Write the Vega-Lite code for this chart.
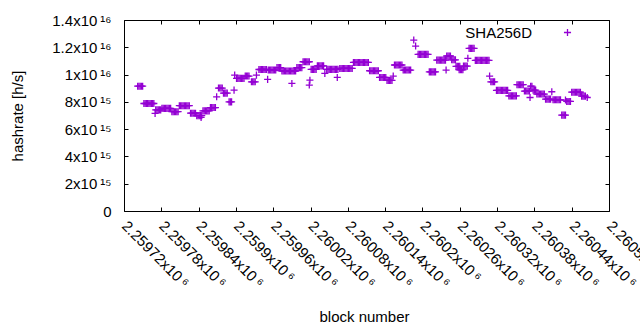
{
"$schema": "https://vega.github.io/schema/vega-lite/v6.json",
"width": 485, "height": 191,
"autosize": {"type": "none"},
"padding": {"left": 124, "top": 20, "right": 31, "bottom": 119},
"background": "white",
"config": {"font": "Liberation Sans", "view": {"stroke": "black", "strokeWidth": 1},
  "axis": {"labelColor": "black", "titleColor": "black", "tickColor": "black", "labelFontSize": 15, "titleFontSize": 15, "titleFontWeight": "normal", "grid": false, "domain": false, "tickSize": -4, "labelOverlap": false, "labelFlush": false, "labelBound": false}},
"data": {"values": [
{"block":2259742,"hashrate":9.15e15},{"block":2259744,"hashrate":9.15e15},{"block":2259746,"hashrate":9.15e15},{"block":2259748,"hashrate":9.15e15},{"block":2259750,"hashrate":9.15e15},
{"block":2259752,"hashrate":7.88e15},{"block":2259754,"hashrate":7.88e15},{"block":2259756,"hashrate":7.88e15},{"block":2259758,"hashrate":7.88e15},{"block":2259760,"hashrate":7.88e15},{"block":2259762,"hashrate":7.88e15},{"block":2259764,"hashrate":7.88e15},{"block":2259766,"hashrate":7.88e15},{"block":2259768,"hashrate":7.88e15},
{"block":2259770,"hashrate":7.15e15},
{"block":2259771,"hashrate":7.41e15},{"block":2259773,"hashrate":7.41e15},{"block":2259775,"hashrate":7.41e15},{"block":2259777,"hashrate":7.41e15},{"block":2259779,"hashrate":7.41e15},
{"block":2259781,"hashrate":7.52e15},{"block":2259783,"hashrate":7.52e15},{"block":2259785,"hashrate":7.52e15},{"block":2259787,"hashrate":7.52e15},{"block":2259789,"hashrate":7.52e15},{"block":2259791,"hashrate":7.52e15},{"block":2259793,"hashrate":7.52e15},{"block":2259795,"hashrate":7.52e15},
{"block":2259797,"hashrate":7.28e15},{"block":2259799,"hashrate":7.28e15},{"block":2259801,"hashrate":7.28e15},{"block":2259803,"hashrate":7.28e15},{"block":2259805,"hashrate":7.28e15},{"block":2259807,"hashrate":7.28e15},
{"block":2259809,"hashrate":7.72e15},{"block":2259811,"hashrate":7.72e15},{"block":2259813,"hashrate":7.72e15},{"block":2259815,"hashrate":7.72e15},{"block":2259817,"hashrate":7.72e15},{"block":2259819,"hashrate":7.72e15},{"block":2259821,"hashrate":7.72e15},{"block":2259823,"hashrate":7.72e15},{"block":2259825,"hashrate":7.72e15},
{"block":2259827,"hashrate":7.17e15},{"block":2259829,"hashrate":7.17e15},{"block":2259831,"hashrate":7.17e15},{"block":2259833,"hashrate":7.17e15},{"block":2259835,"hashrate":7.17e15},
{"block":2259837,"hashrate":6.99e15},{"block":2259839,"hashrate":6.99e15},{"block":2259841,"hashrate":6.99e15},{"block":2259843,"hashrate":6.99e15},{"block":2259845,"hashrate":6.99e15},{"block":2259844,"hashrate":6.86e15},
{"block":2259847,"hashrate":7.34e15},{"block":2259849,"hashrate":7.34e15},{"block":2259851,"hashrate":7.34e15},{"block":2259853,"hashrate":7.34e15},{"block":2259855,"hashrate":7.34e15},{"block":2259857,"hashrate":7.34e15},
{"block":2259859,"hashrate":7.58e15},{"block":2259861,"hashrate":7.58e15},{"block":2259863,"hashrate":7.58e15},{"block":2259865,"hashrate":7.58e15},{"block":2259867,"hashrate":7.58e15},
{"block":2259869,"hashrate":8.37e15},
{"block":2259872,"hashrate":9.01e15},{"block":2259874,"hashrate":9.01e15},{"block":2259876,"hashrate":9.01e15},{"block":2259878,"hashrate":9.01e15},
{"block":2259880,"hashrate":8.64e15},{"block":2259882,"hashrate":8.64e15},{"block":2259884,"hashrate":8.64e15},{"block":2259886,"hashrate":8.64e15},
{"block":2259889,"hashrate":8.0e15},{"block":2259891,"hashrate":8.0e15},{"block":2259893,"hashrate":8.0e15},
{"block":2259897,"hashrate":8.86e15},{"block":2259898,"hashrate":9.96e15},
{"block":2259901,"hashrate":9.72e15},{"block":2259903,"hashrate":9.72e15},{"block":2259905,"hashrate":9.72e15},{"block":2259907,"hashrate":9.72e15},{"block":2259909,"hashrate":9.72e15},{"block":2259911,"hashrate":9.72e15},{"block":2259913,"hashrate":9.72e15},
{"block":2259915,"hashrate":9.89e15},{"block":2259917,"hashrate":9.89e15},{"block":2259919,"hashrate":9.89e15},{"block":2259921,"hashrate":9.89e15},
{"block":2259925,"hashrate":9.47e15},{"block":2259927,"hashrate":9.47e15},{"block":2259929,"hashrate":9.47e15},{"block":2259931,"hashrate":9.47e15},
{"block":2259933,"hashrate":9.96e15},
{"block":2259937,"hashrate":1.037e16},{"block":2259939,"hashrate":1.037e16},{"block":2259941,"hashrate":1.037e16},{"block":2259943,"hashrate":1.037e16},{"block":2259945,"hashrate":1.037e16},{"block":2259947,"hashrate":1.037e16},{"block":2259949,"hashrate":1.037e16},
{"block":2259951,"hashrate":9.65e15},
{"block":2259952,"hashrate":1.033e16},{"block":2259954,"hashrate":1.033e16},{"block":2259956,"hashrate":1.033e16},{"block":2259958,"hashrate":1.033e16},{"block":2259960,"hashrate":1.033e16},{"block":2259962,"hashrate":1.033e16},{"block":2259964,"hashrate":1.033e16},
{"block":2259966,"hashrate":1.051e16},{"block":2259968,"hashrate":1.051e16},{"block":2259970,"hashrate":1.051e16},{"block":2259972,"hashrate":1.051e16},
{"block":2259974,"hashrate":1.026e16},{"block":2259976,"hashrate":1.026e16},{"block":2259978,"hashrate":1.026e16},{"block":2259980,"hashrate":1.026e16},{"block":2259982,"hashrate":1.026e16},{"block":2259984,"hashrate":1.026e16},{"block":2259986,"hashrate":1.026e16},{"block":2259988,"hashrate":1.026e16},{"block":2259990,"hashrate":1.026e16},{"block":2259992,"hashrate":1.026e16},{"block":2259994,"hashrate":1.026e16},{"block":2259996,"hashrate":1.026e16},
{"block":2259990,"hashrate":9.35e15},
{"block":2259998,"hashrate":1.051e16},{"block":2260000,"hashrate":1.051e16},{"block":2260002,"hashrate":1.051e16},{"block":2260004,"hashrate":1.051e16},{"block":2260006,"hashrate":1.051e16},
{"block":2260008,"hashrate":1.094e16},{"block":2260010,"hashrate":1.094e16},{"block":2260012,"hashrate":1.094e16},{"block":2260014,"hashrate":1.094e16},{"block":2260016,"hashrate":1.094e16},{"block":2260018,"hashrate":1.094e16},
{"block":2260019,"hashrate":9.59e15},{"block":2260018,"hashrate":9.23e15},
{"block":2260021,"hashrate":1.038e16},{"block":2260023,"hashrate":1.038e16},{"block":2260025,"hashrate":1.038e16},{"block":2260027,"hashrate":1.038e16},{"block":2260029,"hashrate":1.038e16},
{"block":2260031,"hashrate":1.064e16},{"block":2260033,"hashrate":1.064e16},{"block":2260035,"hashrate":1.064e16},{"block":2260037,"hashrate":1.064e16},{"block":2260039,"hashrate":1.064e16},{"block":2260041,"hashrate":1.064e16},
{"block":2260043,"hashrate":1.009e16},
{"block":2260046,"hashrate":1.038e16},{"block":2260048,"hashrate":1.038e16},{"block":2260050,"hashrate":1.038e16},{"block":2260052,"hashrate":1.038e16},{"block":2260054,"hashrate":1.038e16},{"block":2260056,"hashrate":1.038e16},{"block":2260058,"hashrate":1.038e16},{"block":2260060,"hashrate":1.038e16},{"block":2260062,"hashrate":1.038e16},{"block":2260064,"hashrate":1.038e16},
{"block":2260063,"hashrate":9.79e15},
{"block":2260067,"hashrate":1.045e16},{"block":2260069,"hashrate":1.045e16},{"block":2260071,"hashrate":1.045e16},{"block":2260073,"hashrate":1.045e16},{"block":2260075,"hashrate":1.045e16},{"block":2260077,"hashrate":1.045e16},{"block":2260079,"hashrate":1.045e16},{"block":2260081,"hashrate":1.045e16},{"block":2260083,"hashrate":1.045e16},{"block":2260085,"hashrate":1.045e16},{"block":2260087,"hashrate":1.045e16},
{"block":2260089,"hashrate":1.089e16},{"block":2260091,"hashrate":1.089e16},{"block":2260093,"hashrate":1.089e16},{"block":2260095,"hashrate":1.089e16},{"block":2260097,"hashrate":1.089e16},{"block":2260099,"hashrate":1.089e16},{"block":2260101,"hashrate":1.089e16},{"block":2260103,"hashrate":1.089e16},{"block":2260105,"hashrate":1.089e16},{"block":2260107,"hashrate":1.089e16},{"block":2260109,"hashrate":1.089e16},{"block":2260111,"hashrate":1.089e16},{"block":2260113,"hashrate":1.089e16},
{"block":2260115,"hashrate":1.028e16},{"block":2260117,"hashrate":1.028e16},{"block":2260119,"hashrate":1.028e16},{"block":2260121,"hashrate":1.028e16},{"block":2260123,"hashrate":1.028e16},{"block":2260125,"hashrate":1.028e16},{"block":2260127,"hashrate":1.028e16},{"block":2260129,"hashrate":1.028e16},
{"block":2260131,"hashrate":9.79e15},{"block":2260133,"hashrate":9.79e15},{"block":2260135,"hashrate":9.79e15},{"block":2260137,"hashrate":9.79e15},{"block":2260139,"hashrate":9.79e15},{"block":2260141,"hashrate":9.79e15},
{"block":2260143,"hashrate":9.57e15},{"block":2260145,"hashrate":9.57e15},{"block":2260147,"hashrate":9.57e15},{"block":2260149,"hashrate":9.57e15},{"block":2260151,"hashrate":9.57e15},
{"block":2260153,"hashrate":9.89e15},
{"block":2260155,"hashrate":1.07e16},{"block":2260157,"hashrate":1.07e16},{"block":2260159,"hashrate":1.07e16},{"block":2260161,"hashrate":1.07e16},{"block":2260163,"hashrate":1.07e16},{"block":2260165,"hashrate":1.07e16},{"block":2260167,"hashrate":1.07e16},
{"block":2260169,"hashrate":1.033e16},{"block":2260171,"hashrate":1.033e16},{"block":2260173,"hashrate":1.033e16},{"block":2260175,"hashrate":1.033e16},{"block":2260177,"hashrate":1.033e16},{"block":2260179,"hashrate":1.033e16},{"block":2260181,"hashrate":1.033e16},
{"block":2260186,"hashrate":1.253e16},{"block":2260189,"hashrate":1.209e16},
{"block":2260193,"hashrate":1.148e16},{"block":2260195,"hashrate":1.148e16},{"block":2260197,"hashrate":1.148e16},{"block":2260199,"hashrate":1.148e16},{"block":2260201,"hashrate":1.148e16},{"block":2260203,"hashrate":1.148e16},{"block":2260205,"hashrate":1.148e16},{"block":2260207,"hashrate":1.148e16},{"block":2260209,"hashrate":1.148e16},
{"block":2260211,"hashrate":1.02e16},{"block":2260213,"hashrate":1.02e16},{"block":2260215,"hashrate":1.02e16},{"block":2260217,"hashrate":1.02e16},{"block":2260219,"hashrate":1.02e16},{"block":2260221,"hashrate":1.02e16},
{"block":2260223,"hashrate":1.106e16},{"block":2260225,"hashrate":1.106e16},{"block":2260227,"hashrate":1.106e16},{"block":2260229,"hashrate":1.106e16},{"block":2260231,"hashrate":1.106e16},{"block":2260233,"hashrate":1.106e16},{"block":2260235,"hashrate":1.106e16},{"block":2260237,"hashrate":1.106e16},
{"block":2260238,"hashrate":1.033e16},
{"block":2260239,"hashrate":1.136e16},{"block":2260241,"hashrate":1.136e16},{"block":2260243,"hashrate":1.136e16},{"block":2260245,"hashrate":1.136e16},
{"block":2260247,"hashrate":1.108e16},{"block":2260249,"hashrate":1.108e16},{"block":2260251,"hashrate":1.108e16},{"block":2260253,"hashrate":1.108e16},
{"block":2260254,"hashrate":1.06e16},{"block":2260256,"hashrate":1.06e16},{"block":2260258,"hashrate":1.06e16},{"block":2260260,"hashrate":1.06e16},
{"block":2260259,"hashrate":1.035e16},{"block":2260261,"hashrate":1.035e16},{"block":2260263,"hashrate":1.035e16},{"block":2260265,"hashrate":1.035e16},
{"block":2260266,"hashrate":1.062e16},{"block":2260268,"hashrate":1.062e16},{"block":2260270,"hashrate":1.062e16},{"block":2260272,"hashrate":1.062e16},
{"block":2260273,"hashrate":1.119e16},
{"block":2260275,"hashrate":1.192e16},{"block":2260277,"hashrate":1.192e16},{"block":2260279,"hashrate":1.192e16},{"block":2260281,"hashrate":1.192e16},{"block":2260283,"hashrate":1.192e16},
{"block":2260285,"hashrate":1.104e16},{"block":2260287,"hashrate":1.104e16},{"block":2260289,"hashrate":1.104e16},{"block":2260291,"hashrate":1.104e16},{"block":2260293,"hashrate":1.104e16},{"block":2260295,"hashrate":1.104e16},{"block":2260297,"hashrate":1.104e16},{"block":2260299,"hashrate":1.104e16},{"block":2260301,"hashrate":1.104e16},{"block":2260303,"hashrate":1.104e16},{"block":2260305,"hashrate":1.104e16},{"block":2260307,"hashrate":1.104e16},
{"block":2260308,"hashrate":9.89e15},
{"block":2260310,"hashrate":9.47e15},{"block":2260312,"hashrate":9.47e15},{"block":2260314,"hashrate":9.47e15},{"block":2260316,"hashrate":9.47e15},
{"block":2260319,"hashrate":8.84e15},{"block":2260321,"hashrate":8.84e15},{"block":2260323,"hashrate":8.84e15},{"block":2260325,"hashrate":8.84e15},{"block":2260327,"hashrate":8.84e15},{"block":2260329,"hashrate":8.84e15},{"block":2260331,"hashrate":8.84e15},{"block":2260333,"hashrate":8.84e15},{"block":2260335,"hashrate":8.84e15},{"block":2260337,"hashrate":8.84e15},
{"block":2260339,"hashrate":8.44e15},{"block":2260341,"hashrate":8.44e15},{"block":2260343,"hashrate":8.44e15},{"block":2260345,"hashrate":8.44e15},{"block":2260347,"hashrate":8.44e15},{"block":2260349,"hashrate":8.44e15},{"block":2260351,"hashrate":8.44e15},
{"block":2260352,"hashrate":9.26e15},{"block":2260354,"hashrate":9.26e15},{"block":2260356,"hashrate":9.26e15},{"block":2260358,"hashrate":9.26e15},{"block":2260360,"hashrate":9.26e15},{"block":2260362,"hashrate":9.26e15},
{"block":2260364,"hashrate":8.79e15},{"block":2260366,"hashrate":8.79e15},{"block":2260368,"hashrate":8.79e15},{"block":2260370,"hashrate":8.79e15},{"block":2260372,"hashrate":8.79e15},
{"block":2260373,"hashrate":8.32e15},
{"block":2260374,"hashrate":9.15e15},{"block":2260376,"hashrate":9.15e15},
{"block":2260378,"hashrate":8.86e15},{"block":2260380,"hashrate":8.86e15},{"block":2260382,"hashrate":8.86e15},
{"block":2260384,"hashrate":8.57e15},{"block":2260386,"hashrate":8.57e15},{"block":2260388,"hashrate":8.57e15},{"block":2260390,"hashrate":8.57e15},{"block":2260392,"hashrate":8.57e15},{"block":2260394,"hashrate":8.57e15},{"block":2260396,"hashrate":8.57e15},
{"block":2260398,"hashrate":8.2e15},{"block":2260400,"hashrate":8.2e15},{"block":2260402,"hashrate":8.2e15},{"block":2260404,"hashrate":8.2e15},{"block":2260406,"hashrate":8.2e15},
{"block":2260408,"hashrate":8.74e15},
{"block":2260410,"hashrate":8.15e15},{"block":2260412,"hashrate":8.15e15},{"block":2260414,"hashrate":8.15e15},{"block":2260416,"hashrate":8.15e15},{"block":2260418,"hashrate":8.15e15},{"block":2260420,"hashrate":8.15e15},{"block":2260422,"hashrate":8.15e15},
{"block":2260424,"hashrate":7.03e15},{"block":2260426,"hashrate":7.03e15},{"block":2260428,"hashrate":7.03e15},{"block":2260430,"hashrate":7.03e15},
{"block":2260430,"hashrate":8.13e15},
{"block":2260432,"hashrate":8.03e15},{"block":2260434,"hashrate":8.03e15},{"block":2260436,"hashrate":8.03e15},{"block":2260438,"hashrate":8.03e15},
{"block":2260440,"hashrate":8.71e15},{"block":2260442,"hashrate":8.71e15},{"block":2260444,"hashrate":8.71e15},{"block":2260446,"hashrate":8.71e15},{"block":2260448,"hashrate":8.71e15},{"block":2260450,"hashrate":8.71e15},{"block":2260452,"hashrate":8.71e15},{"block":2260454,"hashrate":8.71e15},
{"block":2260456,"hashrate":8.42e15},{"block":2260458,"hashrate":8.42e15},{"block":2260460,"hashrate":8.42e15},{"block":2260462,"hashrate":8.42e15},
{"block":2260465,"hashrate":8.32e15}
]},
"layer": [
 {"mark": {"type": "point", "shape": "M-1,0H1M0,-1V1", "filled": false, "strokeWidth": 1.3, "size": 50, "opacity": 1},
  "encoding": {
   "x": {"field": "block", "type": "quantitative", "scale": {"domain": [2259720, 2260500], "nice": false, "zero": false},
     "axis": {"orient": "bottom", "values": [2259720, 2259780, 2259840, 2259900, 2259960, 2260020, 2260080, 2260140, 2260200, 2260260, 2260320, 2260380, 2260440, 2260500],
       "labelExpr": "format(datum.value/1e6, '.6~g') + 'x10\u2009⁶'", "labelAngle": 45, "labelAlign": "left", "labelBaseline": "middle", "labelPadding": 16,
       "title": "block number", "titleX": 240, "titleY": 105, "titleBaseline": "middle", "titleAlign": "center"}},
   "y": {"field": "hashrate", "type": "quantitative", "scale": {"domain": [0, 1.4e16], "nice": false, "zero": true},
     "axis": {"orient": "left", "values": [0, 2e15, 4e15, 6e15, 8e15, 1e16, 1.2e16, 1.4e16],
       "labelExpr": "datum.value == 0 ? '0' : datum.value >= 1e16 ? format(datum.value/1e16, '~g') + 'x10\u2009¹⁶' : format(datum.value/1e15, '~g') + 'x10\u2009¹⁵'",
       "labelPadding": 17, "title": "hashrate [h/s]", "titleX": -106.5, "titleY": 95.5, "titleAngle": -90, "titleBaseline": "middle", "titleAlign": "center"}},
   "color": {"datum": "SHA256D", "type": "nominal", "scale": {"range": ["#9400d3"]},
     "legend": {"orient": "none", "legendX": 436, "legendY": 5, "title": null, "padding": 0, "symbolType": "M-1,0H1M0,-1V1", "symbolSize": 50, "symbolStrokeWidth": 1.3, "symbolStrokeColor": "#9400d3", "labelFontSize": 15, "labelColor": "black", "labelAlign": "right", "labelOffset": -43}}
  }},
 {"mark": {"type": "point", "opacity": 0},
  "encoding": {
   "x": {"field": "block", "type": "quantitative", "scale": {"domain": [2259720, 2260500], "nice": false, "zero": false},
     "axis": {"orient": "top", "values": [2259720, 2259780, 2259840, 2259900, 2259960, 2260020, 2260080, 2260140, 2260200, 2260260, 2260320, 2260380, 2260440, 2260500], "labels": false, "title": null}},
   "y": {"field": "hashrate", "type": "quantitative", "scale": {"domain": [0, 1.4e16], "nice": false, "zero": true},
     "axis": {"orient": "right", "values": [0, 2e15, 4e15, 6e15, 8e15, 1e16, 1.2e16, 1.4e16], "labels": false, "title": null}}
  }}
],
"resolve": {"axis": {"x": "independent", "y": "independent"}}
}
